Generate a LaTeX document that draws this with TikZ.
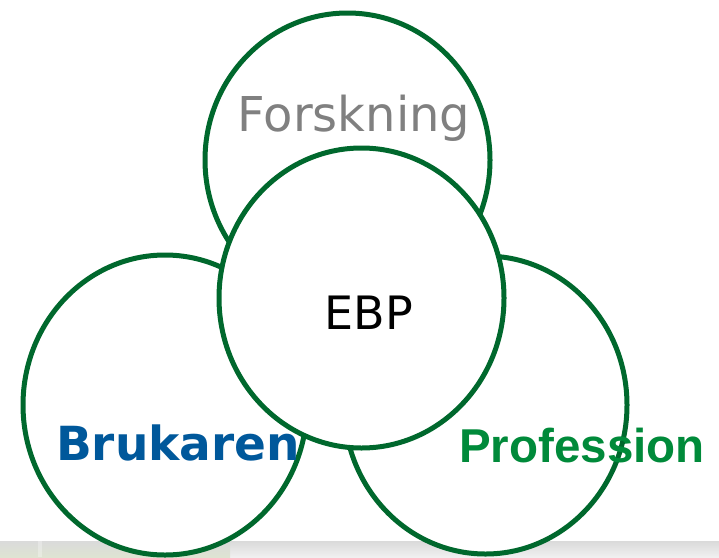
\documentclass[tikz,border=0pt]{standalone}
\usepackage{fontspec}
\setmainfont{DejaVu Sans}
\newfontfamily\arialfont{Liberation Sans}
\definecolor{ringgreen}{RGB}{0,104,45}
\definecolor{forskgray}{RGB}{128,128,128}
\definecolor{brukblue}{RGB}{0,88,155}
\definecolor{profgreen}{RGB}{0,138,58}
\definecolor{stripgray}{RGB}{218,218,218}
\definecolor{striplight}{RGB}{240,240,240}
\definecolor{stripgreen}{RGB}{222,228,210}
\begin{document}
\begin{tikzpicture}[x=1pt,y=-1pt,
  ring/.style={draw=ringgreen,line width=5pt,fill=white},
  lbl/.style={inner sep=0pt,anchor=base}]
\useasboundingbox (0,0) rectangle (719,557);
\fill[white] (0,0) rectangle (719,557);
% bottom strip
\shade[top color=stripgray,bottom color=striplight] (230,541) rectangle (719,557);
\shade[top color=stripgray,bottom color=stripgreen] (0,541) rectangle (230,557);
\fill[white,opacity=0.3] (38,541) rectangle (42,557);
% circles
\path[ring] (347.5,160) ellipse [x radius=142.5,y radius=147];
\path[ring] (165,405) ellipse [x radius=142,y radius=150];
\path[ring] (485.5,405) ellipse [x radius=141.5,y radius=149];
\path[ring] (361.5,298) ellipse [x radius=142.5,y radius=150];
% labels
\node[lbl,text=forskgray,font=\fontsize{48}{58}\selectfont] (forsk) at (354,131) {Forskning};
\node[lbl,text=black,font=\fontsize{46}{56}\selectfont] (ebp) at (369,329) {EBP};
\node[lbl,text=brukblue,font=\bfseries\fontsize{47}{56}\selectfont] (bruk) at (178,460) {Brukaren};
\node[lbl,text=profgreen,font=\arialfont\bfseries\fontsize{47.5}{56}\selectfont] (prof) at (582,462) {Profession};
\end{tikzpicture}
\end{document}
